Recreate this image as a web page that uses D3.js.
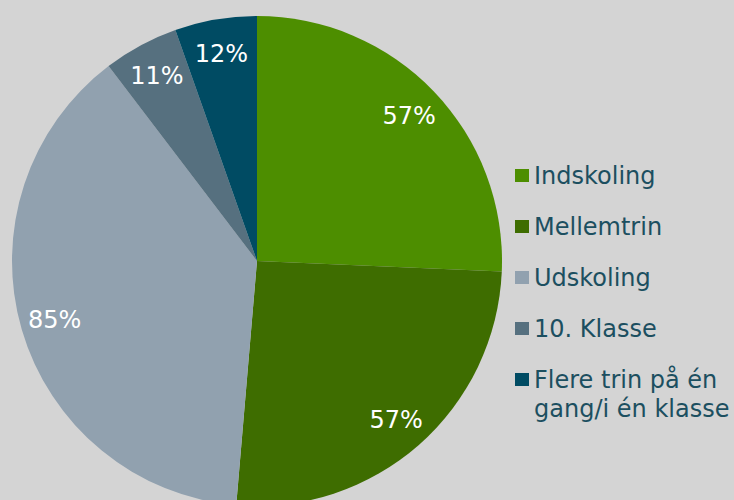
<!DOCTYPE html>
<html><head><meta charset="utf-8">
<script src="https://cdn.jsdelivr.net/npm/d3@7"></script>
<style>html,body{margin:0;padding:0;background:#d4d4d4;}svg{display:block;}</style>
</head><body>
<svg id="c" width="734" height="500"></svg>
<script>
const categories = ["Indskoling","Mellemtrin","Udskoling","10. Klasse","Flere trin på én gang/i én klasse"];
const values = [57,57,85,11,12];
const labels = ["57%","57%","85%","11%","12%"];
const colors = ["#4d8e00","#3e6d00","#91a1af","#56707f","#004b63"];
const legendLines = [["Indskoling"],["Mellemtrin"],["Udskoling"],["10. Klasse"],["Flere trin på én","gang/i én klasse"]];

const svg = d3.select("#c");
svg.append("rect").attr("width",734).attr("height",500).attr("fill","#d4d4d4");
const cx = 257, cy = 261, R = 245;
const g = svg.append("g").attr("transform",`translate(${cx},${cy})`);
const pie = d3.pie().sort(null).value(d=>d);
const arcs = pie(values);
const arc = d3.arc().innerRadius(0).outerRadius(R);
const labelArc = d3.arc().innerRadius(R*0.86).outerRadius(R*0.86);
g.selectAll("path").data(arcs).join("path").attr("d",arc).attr("fill",(d,i)=>colors[i]);
g.selectAll("text").data(arcs).join("text")
  .attr("transform",d=>`translate(${labelArc.centroid(d)})`)
  .attr("text-anchor","middle").attr("dy","0.35em")
  .attr("font-family","DejaVu Sans, Verdana, sans-serif").attr("font-size",24)
  .attr("fill","#ffffff").text((d,i)=>labels[i]);

const lg = svg.append("g");
const y = d3.scalePoint().domain(d3.range(categories.length)).range([176,380]);
categories.forEach((c,i)=>{
  const yy = y(i);
  lg.append("rect").attr("x",515).attr("y",yy-7).attr("width",14).attr("height",13).attr("fill",colors[i]);
  const t = lg.append("text").attr("x",534).attr("y",yy+8)
    .attr("font-family","DejaVu Sans, Verdana, sans-serif").attr("font-size",24).attr("fill","#1c4f60");
  legendLines[i].forEach((ln,j)=>{
    t.append("tspan").attr("x",534).attr("dy",j===0?0:29).text(ln);
  });
});
</script>
</body></html>
